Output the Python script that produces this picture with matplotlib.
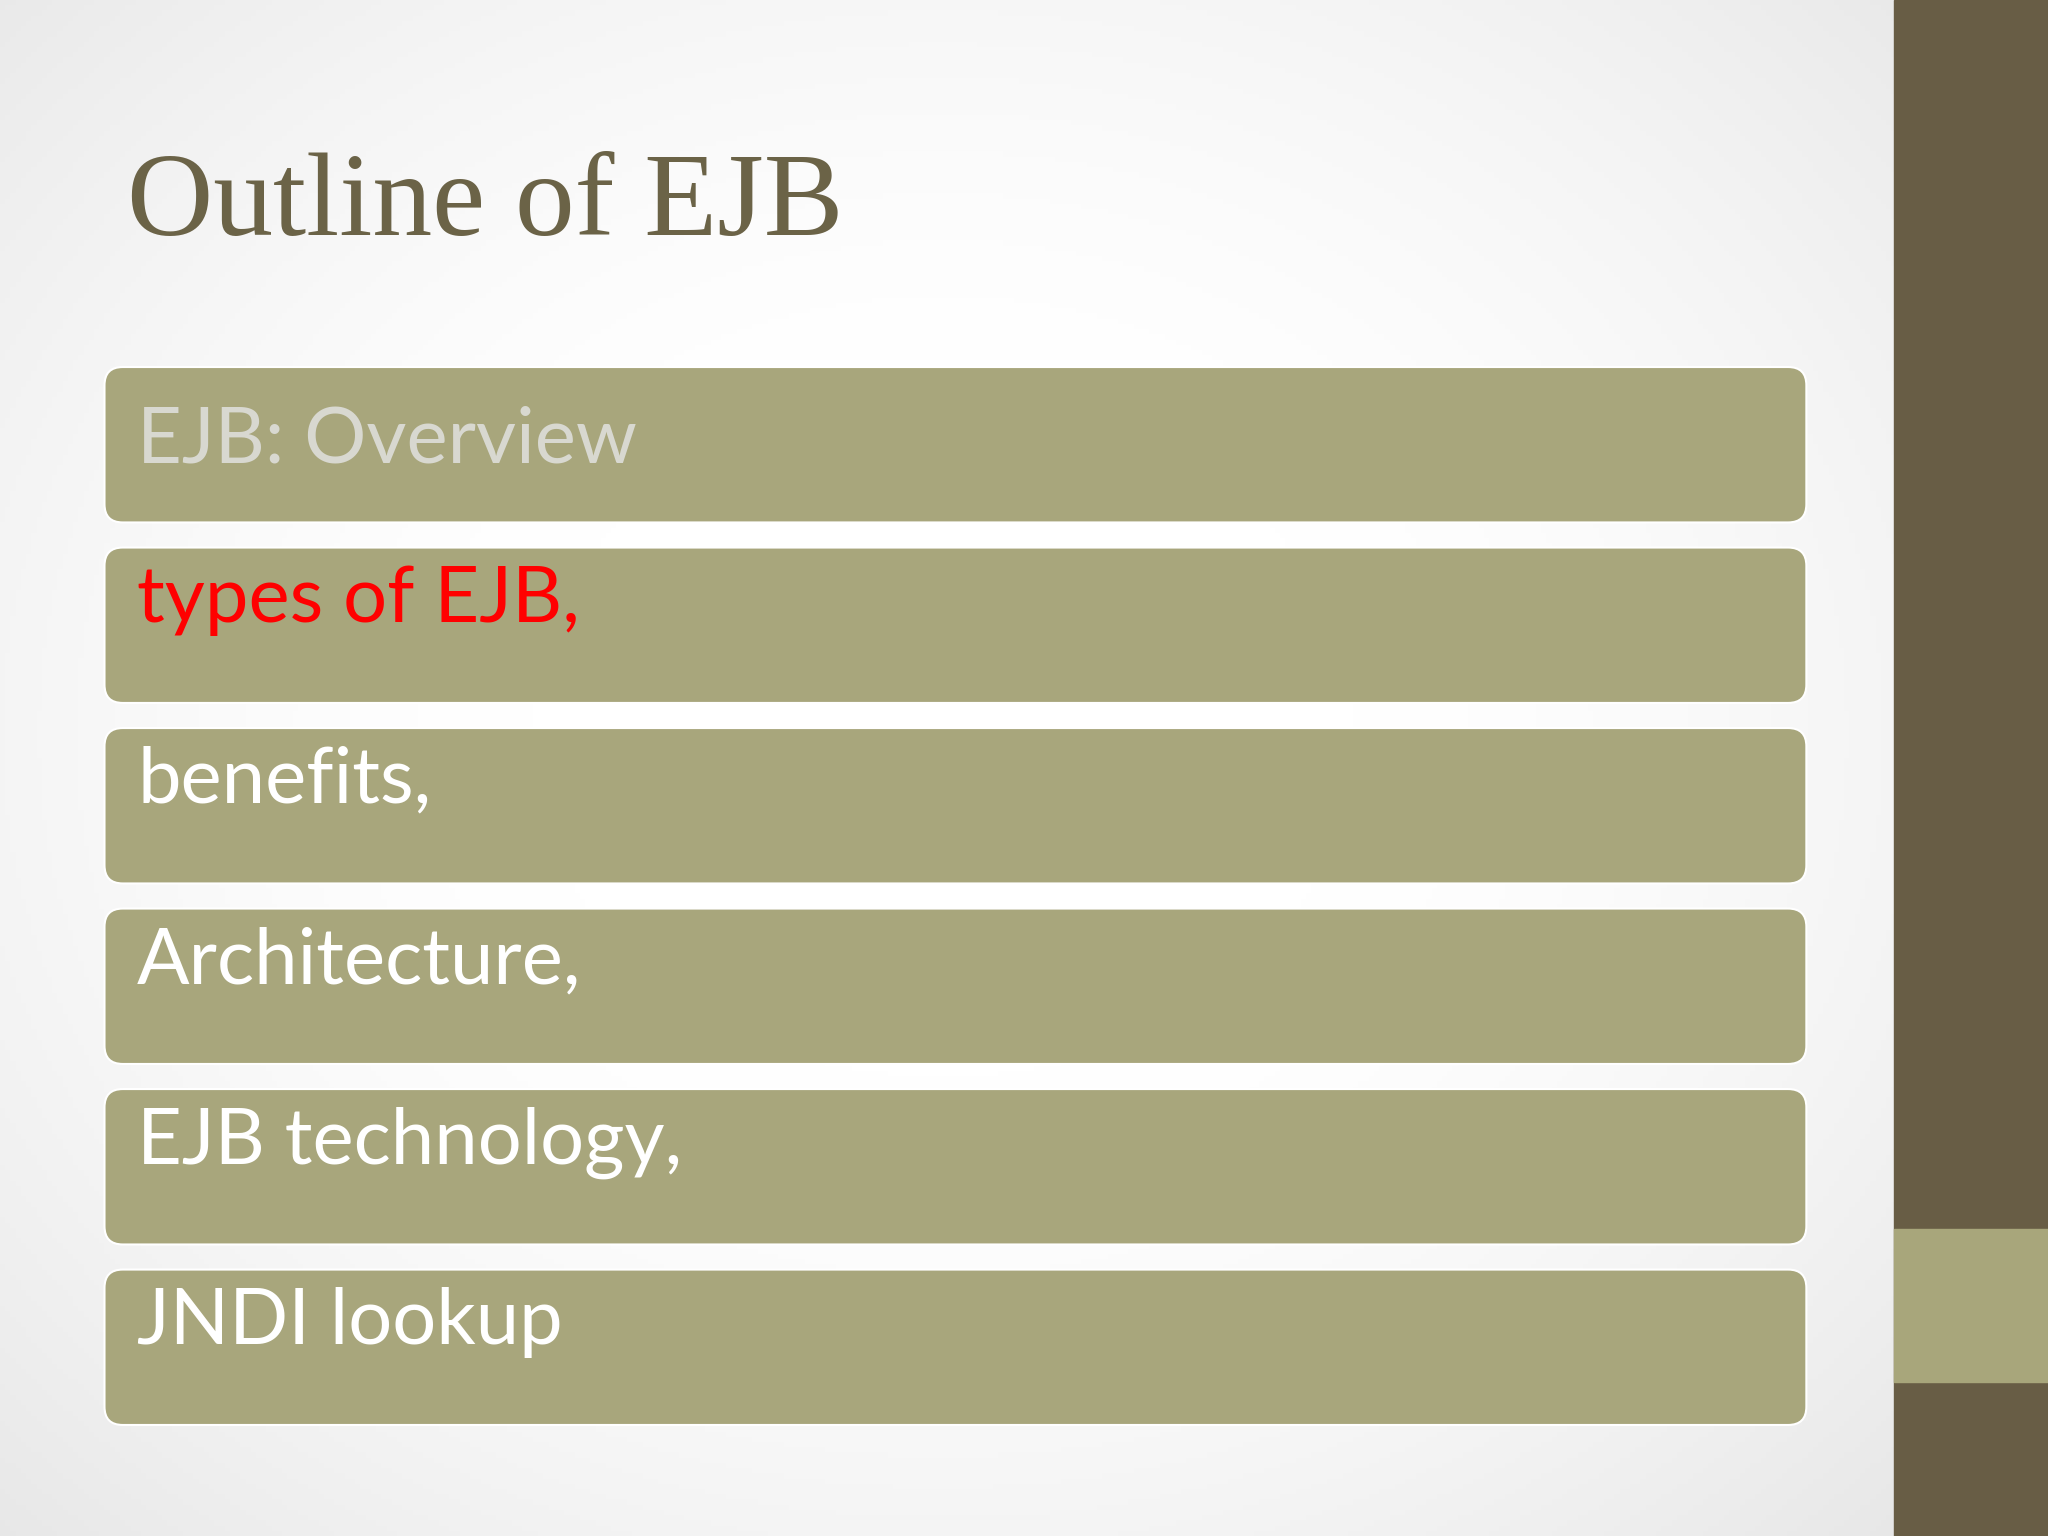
import numpy as np
import matplotlib
matplotlib.use("Agg")
import matplotlib.pyplot as plt
from matplotlib.patches import FancyBboxPatch, Rectangle

title = "Outline of EJB"
items = ["EJB: Overview", "types of EJB,", "benefits,", "Architecture,", "EJB technology,", "JNDI lookup"]
item_colors = ["#d8d8d0", "#ff0000", "#ffffff", "#ffffff", "#ffffff", "#ffffff"]

W, H = 1568, 1176
fig = plt.figure(figsize=(20.48, 15.36), dpi=100)
ax = fig.add_axes([0, 0, 1, 1])
ax.set_xlim(0, W); ax.set_ylim(H, 0); ax.axis("off")

yy, xx = np.mgrid[0:H:4, 0:W:4]
r = np.sqrt(((xx - 720) / 900) ** 2 + ((yy - 560) / 750) ** 2)
v = np.clip(1 - 0.13 * np.clip(r - 0.35, 0, None) ** 1.5, 0.85, 1)
ax.imshow(np.dstack([v, v, v]), extent=[0, W, H, 0], zorder=0)

ax.add_patch(Rectangle((1450, 0), 118, H, color="#685d45", zorder=1))
ax.add_patch(Rectangle((1450, 941), 118, 117, color="#a8a67b", zorder=2))

ax.text(97, 180, title, fontsize=86, family="Liberation Serif", color="#6b6347", va="baseline")

top0, step, bh = 281, 138.2, 119
for i, (t, c) in enumerate(zip(items, item_colors)):
    y0 = top0 + i * step
    ax.add_patch(FancyBboxPatch((80 + 14, y0 + 14), 1303 - 28, bh - 28,
                                boxstyle="round,pad=14", fc="#a8a67c", ec="white", lw=1.5, zorder=3))
    base = y0 + 73 if i == 0 else y0 + 57
    ax.text(105, base, t, fontsize=56, family=["Lato", "DejaVu Sans"], color=c, va="baseline", zorder=4)

fig.savefig("out.png", dpi=100)
